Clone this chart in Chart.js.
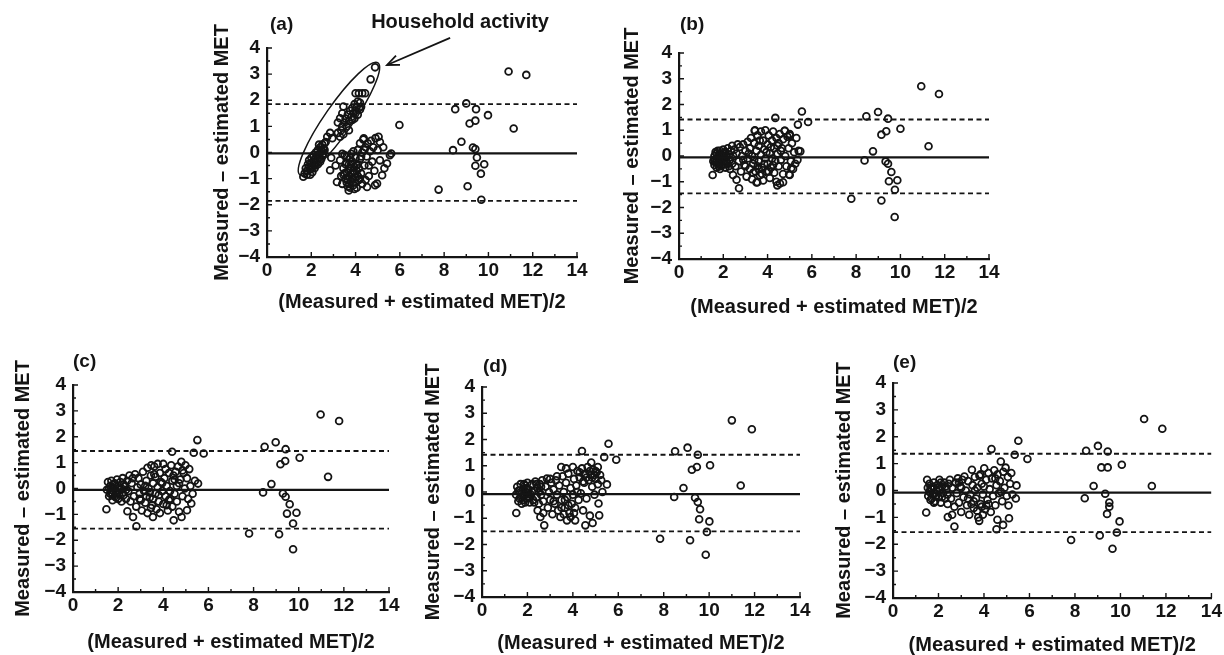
<!DOCTYPE html>
<html>
<head>
<meta charset="utf-8">
<script src="https://cdn.jsdelivr.net/npm/chart.js@4.4.1/dist/chart.umd.min.js"></script>
<style>
html,body{margin:0;padding:0;background:#fff;width:1224px;height:655px;overflow:hidden;position:relative;}
canvas{position:absolute;}
</style>
</head>
<body>
<script>
// ---------- DATA ----------
const xTicks = [0, 2, 4, 6, 8, 10, 12, 14];
const yTicks = [-4, -3, -2, -1, 0, 1, 2, 3, 4];
const panelLabels = ['(a)', '(b)', '(c)', '(d)', '(e)'];
const xTitle = '(Measured + estimated MET)/2';
const yTitle = 'Measured \u2013 estimated MET';
const annotationText = 'Household activity';

const meanDiff  = [-0.03, -0.05, -0.05, -0.08, -0.08];
const upperLoA  = [1.85, 1.42, 1.45, 1.42, 1.37];
const lowerLoA  = [-1.85, -1.45, -1.55, -1.50, -1.55];

// household-activity points of panel (a) (inside the ellipse)
const aHousehold = [[1.64,-0.93],[1.7,-0.8],[1.75,-0.6],[1.8,-0.7],[1.85,-0.45],[1.9,-0.55],[1.9,-0.3],[1.95,-0.65],[2.0,-0.4],[2.0,-0.2],[2.05,-0.5],[2.1,-0.3],[2.1,-0.1],[2.15,-0.4],[2.2,-0.2],[2.2,0.0],[2.25,-0.3],[2.3,-0.1],[2.3,0.1],[2.35,-0.2],[2.4,0.0],[2.4,0.2],[2.45,0.1],[2.5,-0.1],[2.5,0.3],[2.55,0.15],[2.6,0.35],[2.65,0.4],[2.05,-0.75],[1.8,-0.85],[2.15,-0.6],[2.3,-0.45],[2.45,-0.25],[2.55,-0.05],[2.6,0.1],[2.35,0.3],[1.95,-0.85],[2.2,-0.5],[2.4,-0.35],[2.5,0.05],[2.0,-0.6],
[2.72,0.6],[2.85,0.75],[2.95,0.55],[3.2,0.75],[3.3,0.6],[3.35,0.85],[3.45,0.7],[3.3,1.31],[3.2,1.15],[3.4,1.5],[3.45,1.76],[3.55,1.3],[3.6,1.0],[3.65,1.45],[3.7,1.2],[3.75,1.6],[3.8,1.35],[3.85,1.7],[3.9,1.5],[3.95,1.85],[4.0,1.6],[4.05,1.75],[4.1,1.95],[4.2,1.9],[4.0,2.27],[4.15,2.27],[4.3,2.27],[4.43,2.27],[4.68,2.8],[4.88,3.26],[3.5,1.15],[3.85,1.25],[4.1,1.45],[4.2,1.65],[3.7,0.85],[3.4,1.0],[4.25,1.75],[3.95,1.3]];
// other points of panel (a)
const aOther = [[2.9,-0.2],[2.85,-0.68],[3.16,-1.13],[3.1,-0.5],[3.3,-0.3],[3.35,-0.9],[3.4,-1.2],[3.45,-0.6],[3.5,-0.1],[3.55,-1.0],[3.6,-0.75],[3.6,-0.4],[3.65,-1.3],[3.69,-1.45],[3.7,-0.9],[3.75,-0.2],[3.75,-0.6],[3.8,-1.1],[3.85,-0.8],[3.85,-0.35],[3.9,-1.25],[3.9,0.05],[3.95,-0.55],[4.0,-0.95],[4.0,-0.2],[4.05,-1.35],[4.05,-0.7],[4.1,0.1],[4.1,-0.45],[4.15,-1.05],[4.2,-0.25],[4.2,0.35],[4.25,-0.8],[4.3,0.0],[4.3,-1.2],[4.35,0.5],[4.37,0.54],[4.4,-0.5],[4.45,0.2],[4.5,-0.15],[4.52,-1.32],[4.55,0.35],[4.6,-0.9],[4.65,0.05],[4.7,0.45],[4.75,-0.35],[4.8,0.2],[4.85,-0.7],[4.88,-1.25],[4.9,0.55],[4.97,-1.19],[5.0,0.1],[5.04,0.6],[5.1,-0.3],[5.1,0.4],[5.2,-0.87],[5.25,0.2],[5.3,-0.6],[5.42,-0.42],[5.55,-0.1],[5.61,-0.04],[3.5,-0.8],[3.65,-1.05],[3.95,-1.4],[4.15,-0.6],[3.55,-0.45],[3.8,-0.05],[4.45,-1.05],[4.6,-0.5],[3.4,-0.05],[3.7,-1.2],[3.9,-0.7],[4.0,-1.15],[3.8,-0.45],[4.1,-0.9],[3.6,-0.15],[3.45,-0.85],[3.75,-1.35],[3.85,-1.0],[4.05,-0.5],[4.2,-1.0],[3.6,-1.15],[3.95,-0.8],[4.25,-0.15],[4.4,0.1],[3.7,-0.45],
[5.98,1.05],[7.75,-1.42],[8.4,0.09],[8.5,1.66],[8.78,0.41],[9.0,1.88],[9.06,-1.29],[9.15,1.11],[9.3,0.19],[9.41,1.22],[9.41,0.13],[9.44,1.66],[9.48,-0.19],[9.41,-0.51],[9.66,-0.81],[9.68,-1.81],[9.81,-0.45],[9.98,1.43],[10.91,3.1],[11.14,0.92],[11.71,2.97]];

const bPoints = [[1.55,-0.2],[1.6,0.0],[1.6,-0.35],[1.65,0.15],[1.7,-0.1],[1.7,-0.45],[1.75,0.2],[1.8,-0.25],[1.8,0.05],[1.85,-0.5],[1.9,0.1],[1.9,-0.15],[1.95,-0.35],[2.0,0.25],[2.0,0.0],[2.05,-0.2],[2.1,-0.45],[2.1,0.15],[2.15,-0.05],[2.2,0.3],[2.2,-0.3],[2.25,0.05],[2.3,-0.15],[2.3,-0.5],[2.35,0.2],[2.4,-0.3],[2.4,0.4],[2.45,0.0],[1.65,-0.25],[1.75,-0.05],[1.85,0.2],[1.95,0.0],[2.05,0.1],[1.7,0.1],[1.9,-0.4],[2.15,-0.25],[1.6,-0.15],[1.8,-0.4],[2.0,-0.3],[2.25,-0.4],[1.75,-0.3],[2.1,-0.1],
[1.52,-0.74],[2.44,-0.74],[2.71,-1.25],[2.6,-0.92],[2.5,0.25],[2.55,-0.4],[2.6,0.1],[2.7,-0.2],[2.75,0.35],[2.8,-0.6],[2.85,0.0],[2.9,0.45],[2.95,-0.35],[3.0,0.2],[3.05,-0.8],[3.1,0.55],[3.1,-0.1],[3.2,-0.5],[3.2,0.3],[3.25,0.7],[3.3,-0.9],[3.3,0.0],[3.35,-0.3],[3.4,0.5],[3.43,1.0],[3.45,-0.6],[3.5,0.2],[3.5,-1.03],[3.55,0.8],[3.6,-0.2],[3.6,0.4],[3.65,-0.75],[3.7,0.95],[3.7,0.05],[3.75,-0.45],[3.8,0.6],[3.8,-0.95],[3.85,0.25],[3.9,-0.1],[3.9,1.0],[3.95,-0.6],[4.0,0.45],[4.0,-0.3],[4.05,0.8],[4.1,0.1],[4.1,-0.85],[4.15,-0.45],[4.2,0.6],[4.2,-0.1],[4.25,0.95],[4.3,0.3],[4.3,-0.65],[4.35,-0.2],[4.4,0.7],[4.4,-1.0],[4.45,0.1],[4.5,-0.4],[4.5,0.5],[4.55,0.85],[4.56,-1.07],[4.6,-0.15],[4.65,0.3],[4.7,-0.7],[4.7,0.65],[4.78,0.98],[4.8,0.0],[4.85,-0.4],[4.9,0.75],[4.95,0.3],[5.0,-0.74],[5.0,0.85],[5.05,-0.2],[5.1,0.5],[5.15,-0.5],[5.2,0.15],[5.25,-0.3],[5.3,0.7],[5.4,0.2],[5.35,-0.15],[4.7,-1.02],[4.44,-1.14],[3.54,-1.02],[3.42,0.98],[4.77,0.98],[5.0,0.8],[4.35,1.48],[5.37,1.22],[5.55,1.73],[5.83,1.32],[5.48,0.18],[5.07,-0.47],[4.97,-0.72],[3.0,-0.4],[3.15,0.1],[3.4,-0.15],[3.65,0.6],[3.95,0.15],[4.25,-0.35],[4.6,0.2],[2.65,0.45],[2.9,-0.15],[3.55,-0.4],[3.35,-0.65],[3.75,-0.7],[4.05,-0.6],[3.6,-0.5],[3.85,-0.3],[4.15,0.35],[4.45,0.4],
[10.94,2.71],[11.74,2.41],[11.27,0.38],[8.99,1.71],[8.46,1.54],[9.44,1.45],[9.36,0.96],[9.14,0.83],[10.0,1.06],[8.76,0.18],[8.38,-0.17],[9.33,-0.21],[9.44,-0.30],[9.59,-0.62],[9.48,-0.98],[9.86,-0.94],[9.75,-1.31],[7.78,-1.66],[9.14,-1.73],[9.74,-2.37]];

const cPoints = [[1.5,-0.05],[1.55,0.25],[1.6,-0.3],[1.65,0.1],[1.7,-0.15],[1.7,0.3],[1.75,-0.45],[1.8,0.0],[1.85,0.2],[1.85,-0.3],[1.9,-0.1],[1.95,0.35],[2.0,-0.4],[2.0,0.1],[2.05,-0.2],[2.1,0.25],[2.15,-0.5],[2.15,0.0],[2.2,0.4],[2.25,-0.25],[2.3,0.1],[2.35,-0.4],[2.4,0.3],[2.45,-0.1],[1.65,-0.2],[1.8,0.15],[1.95,-0.2],[2.1,-0.05],[1.75,0.05],[2.25,0.15],[1.6,0.0],[1.9,-0.35],[2.05,0.0],[2.2,-0.15],[1.75,-0.25],[2.35,-0.05],
[1.48,-0.8],[2.41,-0.88],[2.66,-1.1],[2.81,-1.46],[2.5,0.5],[2.55,-0.5],[2.6,0.2],[2.7,-0.3],[2.75,0.55],[2.8,-0.7],[2.85,0.05],[2.9,0.4],[2.95,-0.4],[3.0,0.15],[3.05,-0.85],[3.1,0.65],[3.15,-0.1],[3.2,-0.55],[3.25,0.3],[3.3,0.8],[3.3,-0.95],[3.35,0.0],[3.4,-0.35],[3.45,0.5],[3.47,0.9],[3.5,-0.65],[3.54,-1.1],[3.55,0.2],[3.6,0.85],[3.65,-0.2],[3.65,0.45],[3.7,-0.8],[3.75,0.95],[3.75,0.05],[3.8,-0.5],[3.85,0.6],[3.85,-0.95],[3.9,0.25],[3.95,-0.1],[4.0,0.95],[4.0,-0.6],[4.05,0.4],[4.1,-0.3],[4.1,0.75],[4.15,0.1],[4.2,-0.85],[4.25,-0.45],[4.25,0.6],[4.3,-0.1],[4.35,0.9],[4.39,1.42],[4.4,0.3],[4.4,-0.7],[4.46,-1.23],[4.5,-0.2],[4.55,0.65],[4.6,-0.5],[4.6,0.1],[4.65,0.85],[4.7,-0.9],[4.75,0.35],[4.8,1.03],[4.81,-1.1],[4.85,-0.3],[4.9,0.6],[4.95,0.0],[4.98,0.9],[5.05,-0.84],[5.05,0.4],[5.1,-0.4],[5.15,0.75],[5.2,0.1],[5.24,-0.58],[5.3,-0.2],[5.35,1.38],[5.4,0.3],[5.51,1.87],[5.54,0.19],[5.79,1.35],[3.0,-0.45],[3.2,0.1],[3.4,-0.15],[3.6,0.55],[3.95,0.2],[4.3,-0.4],[4.7,0.2],[2.65,0.4],[2.95,-0.2],[3.55,-0.4],[4.45,0.5],[4.85,0.7],[3.45,-0.75],[3.8,-0.25],[4.15,-0.65],[3.25,-0.3],[4.5,0.35],
[10.97,2.86],[11.79,2.61],[11.3,0.45],[8.98,1.79],[8.49,1.61],[9.42,1.52],[9.4,1.06],[9.19,0.94],[10.04,1.19],[8.79,0.17],[8.42,-0.15],[9.3,-0.19],[9.42,-0.32],[9.6,-0.61],[9.48,-0.97],[9.9,-0.94],[9.75,-1.35],[7.8,-1.74],[9.13,-1.77],[9.75,-2.35]];

const dPoints = [[1.5,-0.1],[1.55,0.2],[1.6,-0.35],[1.65,0.05],[1.7,-0.2],[1.7,0.3],[1.75,-0.45],[1.8,0.1],[1.85,-0.15],[1.9,0.25],[1.9,-0.4],[1.95,0.0],[2.0,-0.25],[2.0,0.35],[2.05,0.1],[2.1,-0.4],[2.15,-0.1],[2.2,0.3],[2.25,-0.3],[2.3,0.05],[2.35,0.4],[2.4,-0.2],[2.45,0.15],[2.5,-0.45],[2.55,0.3],[2.6,-0.1],[2.65,0.45],[2.7,-0.35],[1.6,0.05],[1.75,-0.05],[1.85,0.3],[2.0,-0.05],[2.2,0.0],[2.4,0.3],[1.65,-0.25],[1.8,-0.3],[2.1,-0.2],[2.3,-0.4],[2.5,0.0],[1.95,0.15],[2.6,0.2],
[1.51,-0.8],[2.57,-0.95],[2.74,-1.27],[2.45,-0.7],[2.8,0.2],[2.86,0.51],[2.9,-0.6],[2.95,0.0],[3.0,-0.3],[3.05,0.35],[3.1,-0.85],[3.15,0.1],[3.2,-0.45],[3.25,0.45],[3.3,-0.1],[3.35,-0.7],[3.4,0.25],[3.45,-0.95],[3.49,0.95],[3.5,-0.3],[3.55,0.6],[3.6,0.0],[3.65,-0.6],[3.7,0.35],[3.74,-1.08],[3.75,-0.2],[3.8,0.7],[3.85,-0.8],[3.9,0.15],[3.95,-0.45],[4.0,0.95],[4.0,-0.1],[4.05,0.5],[4.1,-1.08],[4.1,-0.6],[4.15,0.25],[4.2,0.8],[4.25,-0.3],[4.3,0.55],[4.35,-0.05],[4.4,1.56],[4.4,0.9],[4.45,-0.7],[4.5,0.35],[4.55,-1.27],[4.55,0.7],[4.6,-0.25],[4.65,0.95],[4.7,0.45],[4.75,-0.9],[4.8,0.65],[4.81,1.12],[4.85,0.2],[4.87,-1.18],[4.9,0.85],[4.95,-0.1],[5.0,0.5],[5.05,0.75],[5.1,0.3],[5.13,-0.44],[5.16,-0.89],[5.2,0.65],[5.25,0.45],[5.3,0.0],[5.38,1.33],[5.5,0.29],[5.57,1.84],[5.91,1.23],[4.3,0.75],[4.6,0.55],[4.75,0.8],[4.95,0.65],[5.1,0.95],[4.45,0.4],[3.6,-0.85],[3.9,-0.95],[3.3,0.6],[3.0,0.5],[3.7,0.9],[2.7,-0.8],[3.15,-0.35],[4.2,0.0],[3.5,-0.6],[3.8,-0.5],[4.05,-0.8],[3.65,-0.3],[4.85,0.55],[5.0,0.8],[4.5,0.65],
[11.0,2.73],[11.88,2.39],[11.39,0.25],[9.05,1.69],[8.5,1.55],[9.5,1.42],[9.46,0.95],[9.24,0.85],[10.04,1.02],[8.87,0.15],[8.46,-0.19],[9.38,-0.22],[9.5,-0.38],[9.6,-0.66],[9.56,-1.04],[10.01,-1.12],[9.9,-1.52],[7.84,-1.78],[9.16,-1.84],[9.85,-2.39]];

const ePoints = [[1.5,0.4],[1.53,0.1],[1.55,-0.2],[1.6,0.25],[1.65,-0.35],[1.7,0.05],[1.75,-0.15],[1.8,0.3],[1.85,-0.4],[1.9,0.0],[1.95,0.2],[2.0,-0.25],[2.04,0.4],[2.05,0.05],[2.1,-0.45],[2.15,0.15],[2.2,-0.1],[2.25,0.3],[2.3,-0.3],[2.35,0.05],[2.4,-0.5],[2.45,0.25],[1.6,-0.05],[1.75,0.15],[1.9,-0.2],[2.1,0.3],[2.3,0.15],[1.7,-0.3],[2.0,0.1],[1.65,0.1],[1.85,-0.1],[2.15,-0.25],[2.4,-0.15],[1.8,-0.45],
[1.46,-0.82],[2.41,-0.99],[2.7,-1.34],[2.6,-0.9],[2.5,0.4],[2.55,-0.3],[2.6,0.1],[2.7,-0.6],[2.75,0.3],[2.8,-0.1],[2.85,0.45],[2.9,-0.45],[2.95,0.15],[3.0,-0.8],[3.05,0.4],[3.1,-0.25],[3.14,0.52],[3.2,0.0],[3.25,-0.55],[3.3,0.35],[3.35,-0.9],[3.4,-0.15],[3.47,0.77],[3.5,0.2],[3.55,-0.65],[3.6,0.5],[3.65,-0.3],[3.7,0.1],[3.75,-1.0],[3.79,-1.13],[3.8,0.55],[3.85,-0.5],[3.9,0.25],[3.95,-0.15],[4.01,0.83],[4.05,-0.7],[4.1,0.4],[4.15,-0.35],[4.2,0.65],[4.25,0.05],[4.3,-0.8],[4.33,1.54],[4.35,0.45],[4.4,-0.2],[4.45,0.75],[4.5,-0.55],[4.55,0.2],[4.59,-1.09],[4.55,-1.44],[4.6,0.6],[4.65,-0.1],[4.7,0.35],[4.74,1.08],[4.8,-0.4],[4.84,-1.28],[4.85,0.7],[4.9,0.1],[4.95,0.85],[5.0,-0.2],[5.05,0.5],[5.08,-0.56],[5.1,-1.03],[5.15,0.25],[5.2,0.65],[5.25,-0.15],[5.35,1.33],[5.4,-0.3],[5.43,0.19],[5.51,1.85],[5.91,1.17],[3.0,0.1],[3.3,-0.3],[3.6,0.0],[3.9,-0.6],[4.2,-0.5],[4.5,0.45],[2.9,0.3],[3.45,-0.5],[4.0,0.15],[4.75,-0.05],[3.7,-0.75],[3.95,-0.9],[3.55,-0.4],[4.1,-0.55],[3.85,0.6],
[11.04,2.66],[11.84,2.3],[11.38,0.17],[9.01,1.66],[8.49,1.48],[9.44,1.45],[9.16,0.86],[9.44,0.86],[10.06,0.96],[8.82,0.17],[8.43,-0.29],[9.33,-0.12],[9.51,-0.45],[9.51,-0.6],[9.41,-0.87],[9.96,-1.15],[9.84,-1.56],[7.83,-1.84],[9.09,-1.67],[9.65,-2.17]];

// ellipse ends (data units) and arrow (data units) for panel (a)
const ellipseEnds = [[1.49,-0.86],[5.01,3.43]];
const arrowFromTo = [[8.27,4.39],[5.42,3.35]];
const annotationPos = [8.72, 4.96];

// ---------- LAYOUT ----------
const FONT = '"Liberation Sans", Arial, Helvetica, sans-serif';
const INK = '#141414';
const panels = [
  {L:267, T:48, R:577, B:257, yOff:45, xOff:45, lx:3, ly:-23, pts:[aHousehold, aOther], household:true},
  {L:679, T:53, R:989, B:259, yOff:47, xOff:48, lx:1, ly:-28, pts:[bPoints]},
  {L:73,  T:385, R:389, B:592, yOff:50, xOff:50, lx:0, ly:-23, pts:[cPoints]},
  {L:482, T:387, R:800, B:597, yOff:49, xOff:46, lx:1, ly:-20, pts:[dPoints]},
  {L:893, T:383, R:1212, B:598, yOff:49, xOff:47, lx:0, ly:-20, pts:[ePoints]}
];
const YW = 70, XH = 65, PT = 40;

const decor = {
  id: 'decor',
  afterDraw(chart, args, o) {
    const {ctx, chartArea: a, scales: {x, y}} = chart;
    ctx.save();
    ctx.strokeStyle = INK; ctx.fillStyle = INK; ctx.lineWidth = 1.4;
    ctx.beginPath();
    for (let v = 0; v <= 14; v += 1) {
      const px = x.getPixelForValue(v), len = v % 2 === 0 ? 5 : 3;
      ctx.moveTo(px, a.bottom); ctx.lineTo(px, a.bottom - len);
    }
    for (let v = -4; v <= 4; v += 0.5) {
      const py = y.getPixelForValue(v), len = Number.isInteger(v) ? 5 : 3;
      ctx.moveTo(a.left, py); ctx.lineTo(a.left + len, py);
    }
    ctx.stroke();
    ctx.font = 'bold 19px ' + FONT;
    ctx.textBaseline = 'middle'; ctx.textAlign = 'left';
    ctx.fillText(o.label, a.left + o.lx, a.top + o.ly);
    if (o.household) {
      const p1 = [x.getPixelForValue(ellipseEnds[0][0]), y.getPixelForValue(ellipseEnds[0][1])];
      const p2 = [x.getPixelForValue(ellipseEnds[1][0]), y.getPixelForValue(ellipseEnds[1][1])];
      const cx = (p1[0] + p2[0]) / 2, cy = (p1[1] + p2[1]) / 2;
      const ang = Math.atan2(p2[1] - p1[1], p2[0] - p1[0]);
      const half = Math.hypot(p2[0] - p1[0], p2[1] - p1[1]) / 2;
      ctx.lineWidth = 1.5;
      ctx.beginPath(); ctx.ellipse(cx, cy, half, 14, ang, 0, Math.PI * 2); ctx.stroke();
      const f = [x.getPixelForValue(arrowFromTo[0][0]), y.getPixelForValue(arrowFromTo[0][1])];
      const t = [x.getPixelForValue(arrowFromTo[1][0]), y.getPixelForValue(arrowFromTo[1][1])];
      ctx.lineWidth = 1.8;
      ctx.beginPath(); ctx.moveTo(f[0], f[1]); ctx.lineTo(t[0], t[1]); ctx.stroke();
      const aa = Math.atan2(f[1] - t[1], f[0] - t[0]);
      ctx.beginPath();
      ctx.moveTo(t[0] + 13 * Math.cos(aa + 0.4), t[1] + 13 * Math.sin(aa + 0.4));
      ctx.lineTo(t[0], t[1]);
      ctx.lineTo(t[0] + 13 * Math.cos(aa - 0.4), t[1] + 13 * Math.sin(aa - 0.4));
      ctx.stroke();
      ctx.font = 'bold 20px ' + FONT; ctx.textAlign = 'center';
      ctx.fillText(annotationText, x.getPixelForValue(annotationPos[0]), y.getPixelForValue(annotationPos[1]));
    }
    ctx.restore();
  }
};

const toXY = arr => arr.map(p => ({x: p[0], y: p[1]}));
const lineData = v => [{x: xTicks[0], y: v}, {x: xTicks[xTicks.length - 1], y: v}];

panels.forEach((p, i) => {
  const left = p.L - YW, top = p.T - PT;
  const rightPad = (i === 4) ? (1224 - p.R) : 14;
  const w = (p.R - p.L) + YW + rightPad, h = (p.B - p.T) + PT + XH;
  const cv = document.createElement('canvas');
  cv.width = w; cv.height = h;
  cv.style.left = left + 'px'; cv.style.top = top + 'px';
  cv.style.width = w + 'px'; cv.style.height = h + 'px';
  document.body.appendChild(cv);

  const pointSets = p.pts.map(arr => ({
    type: 'scatter', data: toXY(arr), showLine: false,
    pointRadius: 3.4, pointBorderWidth: 1.8, pointBorderColor: INK,
    pointBackgroundColor: 'rgba(0,0,0,0)', pointStyle: 'circle'
  }));
  const lineSets = [
    {data: lineData(meanDiff[i]), dash: []},
    {data: lineData(upperLoA[i]), dash: [5, 3.5]},
    {data: lineData(lowerLoA[i]), dash: [5, 3.5]}
  ].map(l => ({
    type: 'scatter', data: l.data, showLine: true, pointRadius: 0,
    borderColor: INK, borderWidth: l.dash.length ? 1.9 : 2.2, borderDash: l.dash, fill: false
  }));

  new Chart(cv, {
    type: 'scatter',
    data: {datasets: [...lineSets, ...pointSets]},
    options: {
      responsive: false, animation: false, devicePixelRatio: 1,
      layout: {padding: {left: 0, top: PT, right: rightPad, bottom: 0}},
      plugins: {
        legend: {display: false}, tooltip: {enabled: false},
        decor: {label: panelLabels[i], lx: p.lx, ly: p.ly, household: !!p.household}
      },
      scales: {
        x: {
          type: 'linear', min: xTicks[0], max: xTicks[xTicks.length - 1],
          afterBuildTicks: s => { s.ticks = xTicks.map(v => ({value: v})); },
          afterFit: s => { s.height = XH; },
          ticks: {color: INK, font: {family: FONT, size: 19, weight: 'bold'}, padding: 2, maxRotation: 0, autoSkip: false},
          grid: {display: true, color: 'rgba(0,0,0,0)', drawTicks: false},
          border: {display: true, color: INK, width: 2.2},
          title: {display: true, text: xTitle, color: INK, font: {family: FONT, size: 20, weight: 'bold'}, padding: {top: 0, bottom: XH - 12 - p.xOff}}
        },
        y: {
          type: 'linear', min: yTicks[0], max: yTicks[yTicks.length - 1],
          afterBuildTicks: s => { s.ticks = yTicks.map(v => ({value: v})); },
          afterFit: s => { s.width = YW; },
          ticks: {color: INK, font: {family: FONT, size: 19, weight: 'bold'}, padding: 7, autoSkip: false,
                  callback: v => v < 0 ? '\u2212' + Math.abs(v) : String(v)},
          grid: {display: true, color: 'rgba(0,0,0,0)', drawTicks: false},
          border: {display: true, color: INK, width: 2.2},
          title: {display: true, text: yTitle, color: INK, font: {family: FONT, size: 20, weight: 'bold'}, padding: {top: YW - 12 - p.yOff, bottom: 0}}
        }
      }
    },
    plugins: [decor]
  });
});
</script>
</body>
</html>
